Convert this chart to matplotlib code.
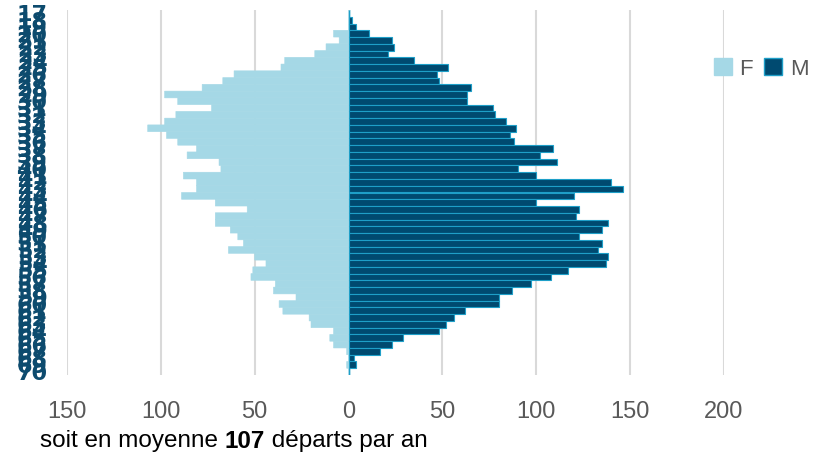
import numpy as np
import matplotlib
matplotlib.use('Agg')
import matplotlib.pyplot as plt
from matplotlib.patches import Patch

# Ages (top = 17, bottom = 70)
ages = list(range(17, 71))

# Effectifs femmes / hommes par âge
femmes = [0, 0, 0, 8, 5, 12, 18, 34, 36, 61, 67, 78, 98, 91, 73, 92, 98, 107,
          97, 91, 81, 86, 69, 68, 88, 81, 81, 89, 71, 54, 71, 71, 63, 59, 56,
          64, 50, 44, 51, 52, 39, 40, 28, 37, 35, 21, 20, 8, 10, 8, 1, 0, 1, 0]
hommes = [0, 2, 4, 11, 23, 24, 21, 35, 53, 47, 48, 65, 63, 63, 77, 78, 84, 89,
          86, 88, 109, 102, 111, 90, 100, 140, 146, 120, 100, 123, 121, 138,
          135, 123, 135, 133, 138, 137, 117, 108, 97, 87, 80, 80, 62, 56, 52,
          48, 29, 23, 17, 3, 4, 0]

x_ticks = [-150, -100, -50, 0, 50, 100, 150, 200]

col_f = '#a5d8e6'
col_m = '#004a70'
col_m_edge = '#1e9fc8'
col_lab = '#0d4b6e'
col_grey = '#595959'
fnt = ['Liberation Sans', 'DejaVu Sans']

fig = plt.figure(figsize=(8.19, 4.53), dpi=100)
ax = fig.add_axes([67 / 819, 1 - 375 / 453, 657 / 819, 365 / 453])

y = np.arange(len(ages))
bf = ax.barh(y, -np.array(femmes), height=1.0, color=col_f, edgecolor=col_f,
             linewidth=0.4, zorder=2)
for p in bf:
    p.set_snap(False)
ax.barh(y, hommes, height=1.0, color=col_m, edgecolor=col_m_edge,
        linewidth=0.8, zorder=3)

ax.set_xlim(-150, 200)
ax.set_ylim(len(ages) - 0.5, -0.5)

# grille verticale
for xt in x_ticks:
    if xt != 0:
        ax.axvline(xt, color='#d9d9d9', lw=1.5, zorder=0)
ax.axvline(0, color=col_f, lw=1.8, zorder=1)

ax.set_xticks(x_ticks)
ax.set_xticklabels([str(abs(v)) for v in x_ticks], color=col_grey,
                   fontsize=17, family=fnt)
ax.tick_params(axis='x', length=0, pad=19)

ax.set_yticks(y)
ax.set_yticklabels([str(a) for a in ages], color=col_lab, fontsize=16,
                   fontweight='bold', family='DejaVu Sans')
ax.tick_params(axis='y', length=0, pad=14)

for s in ax.spines.values():
    s.set_visible(False)

handles = [Patch(facecolor=col_f, edgecolor=col_f, label='F'),
           Patch(facecolor=col_m, edgecolor=col_m_edge, label='M')]
leg = fig.legend(handles=handles, loc='center left', ncol=2,
                 bbox_to_anchor=(714 / 819, 1 - 69 / 453), frameon=False,
                 borderpad=0, borderaxespad=0,
                 handlelength=0.8, handleheight=0.8, handletextpad=0.35,
                 columnspacing=0.5, prop={'family': fnt, 'size': 16})
for t in leg.get_texts():
    t.set_color(col_grey)

# texte du bas, avec le nombre en gras
fig.canvas.draw()
r = fig.canvas.get_renderer()
yb = 1 - 441 / 453
t1 = fig.text(40 / 819, yb, 'soit en moyenne ', fontsize=17.5, family=fnt,
              va='center', color='black')
x1 = t1.get_window_extent(r).x1 / fig.bbox.width
t2 = fig.text(x1, yb, '107', fontsize=17.5, family=fnt, fontweight='bold',
              va='center', color='black')
x2 = t2.get_window_extent(r).x1 / fig.bbox.width
fig.text(x2, yb, ' départs par an', fontsize=17.5, family=fnt, va='center',
         color='black')

fig.savefig('out.png', dpi=100)
